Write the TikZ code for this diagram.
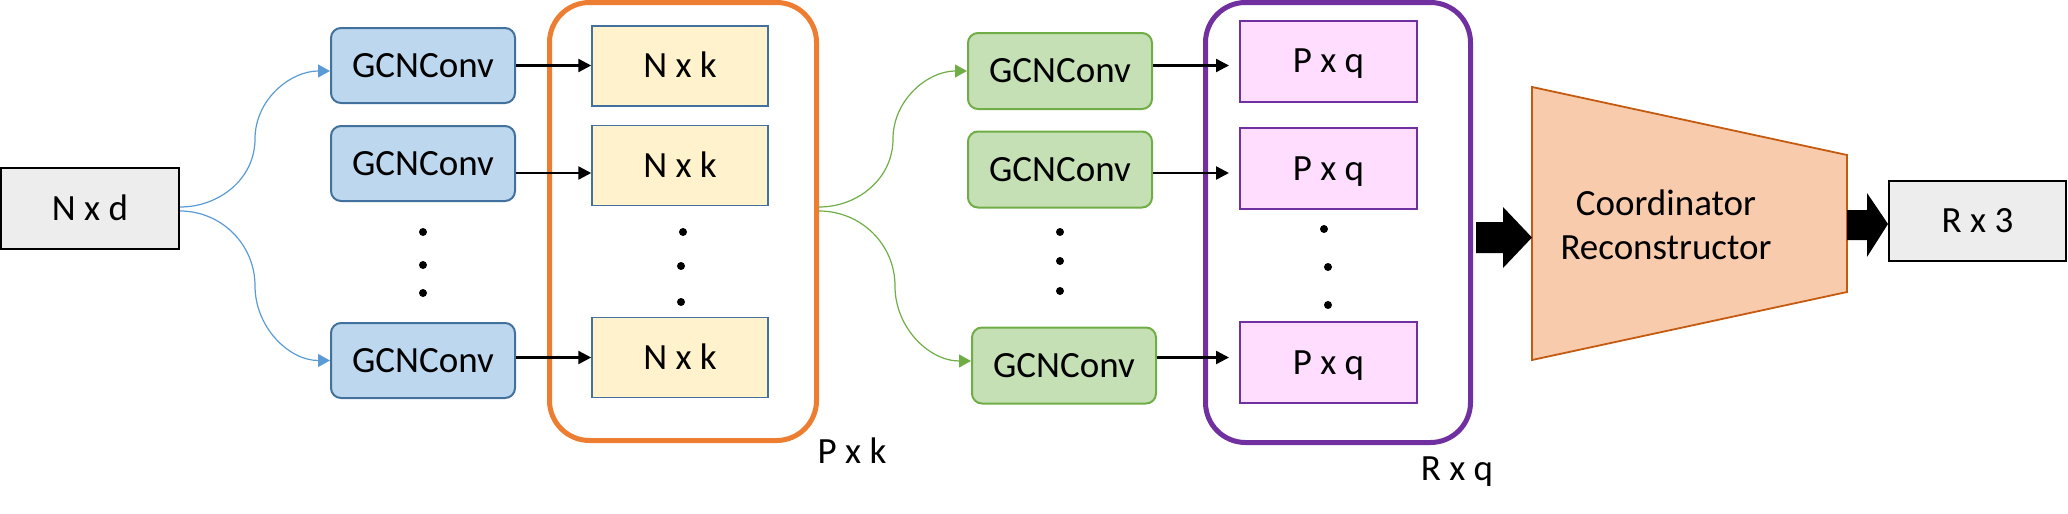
\documentclass[tikz,border=0pt]{standalone}
\usepackage{fontspec}
\setmainfont{Carlito}
\usetikzlibrary{arrows.meta,calc}
\definecolor{cGray}{HTML}{EDEDED}
\definecolor{cBlueF}{HTML}{BDD7EE}
\definecolor{cBlueD}{HTML}{41719C}
\definecolor{cBlueL}{HTML}{5B9BD5}
\definecolor{cYel}{HTML}{FFF2CC}
\definecolor{cOr}{HTML}{ED7D31}
\definecolor{cGrF}{HTML}{C5E0B4}
\definecolor{cGrD}{HTML}{70AD47}
\definecolor{cPink}{HTML}{FFDDFF}
\definecolor{cPur}{HTML}{7030A0}
\definecolor{cTrF}{HTML}{F8CBAD}
\definecolor{cTrD}{HTML}{C55A11}
\tikzset{
  txt/.style={font=\fontsize{18.5}{22}\selectfont},
  box/.style={txt, rectangle, inner sep=0pt, text height=11.9pt, text depth=0pt},
  graybox/.style={box, draw=black, fill=cGray, line width=1pt, minimum width=89pt, minimum height=40.5pt},
  bluebox/.style={box, draw=cBlueD, fill=cBlueF, line width=1pt, rounded corners=5pt, minimum width=92pt, minimum height=37.5pt},
  yelbox/.style={box, draw=cBlueD, fill=cYel, line width=0.75pt, minimum width=88pt, minimum height=40pt},
  grbox/.style={box, draw=cGrD, fill=cGrF, line width=1pt, rounded corners=5pt, minimum width=92pt, minimum height=38pt},
  pinkbox/.style={box, draw=cPur, fill=cPink, line width=1pt, minimum width=88.5pt, minimum height=40.5pt},
  frame/.style={rectangle, line width=2.5pt, rounded corners=20pt, inner sep=0pt},
  arr/.style={line width=1.2pt, -{Triangle[length=6.5pt,width=6.5pt]}},
  bcurve/.style={draw=cBlueL, line width=0.6pt, -{Triangle[length=6pt,width=6.5pt]}},
  gcurve/.style={draw=cGrD, line width=0.6pt, -{Triangle[length=6pt,width=6.5pt]}},
  dot/.style={fill=black},
}
\begin{document}
\begin{tikzpicture}[x=0.5pt,y=-0.5pt]
\useasboundingbox (0,0) rectangle (2068,514);
% row coordinates for arrows
\coordinate (r1) at (0,65.5);
\coordinate (r2) at (0,173);
\coordinate (r3) at (0,357.5);
% frames
\node[frame, draw=cOr, minimum width=133.5pt, minimum height=219pt] (F1) at (683,221.5) {};
\node[frame, draw=cPur, minimum width=132.5pt, minimum height=220pt] (F2) at (1338,222.5) {};
% input
\node[graybox] (nxd) at (90,208.5) {N x d};
% blue GCNConv
\node[bluebox] (b1) at (423,65.5) {GCNConv};
\node[bluebox] (b2) at (423,163.5) {GCNConv};
\node[bluebox] (b3) at (423,360.5) {GCNConv};
\fill[dot] (423,232) circle (2pt) (423,265) circle (2pt) (423,293) circle (2pt);
% yellow
\node[yelbox] (y1) at (680,66) {N x k};
\node[yelbox] (y2) at (680,165.5) {N x k};
\node[yelbox] (y3) at (680,357.5) {N x k};
\fill[dot] (683,232) circle (2pt) (681,266) circle (2pt) (681,302) circle (2pt);
% green GCNConv
\node[grbox] (g1) at (1060,71) {GCNConv};
\node[grbox] (g2) at (1060,169.5) {GCNConv};
\node[grbox] (g3) at (1064,365.5) {GCNConv};
\fill[dot] (1060,232) circle (2pt) (1060,261) circle (2pt) (1060,291) circle (2pt);
% pink
\node[pinkbox] (p1) at (1328.5,61) {P x q};
\node[pinkbox] (p2) at (1328.5,168.5) {P x q};
\node[pinkbox] (p3) at (1328.5,362.5) {P x q};
\fill[dot] (1324,229) circle (2pt) (1328,267) circle (2pt) (1328,305) circle (2pt);
% labels
\node[txt, anchor=base] (lpk) at (852,463) {P x k};
\node[txt, anchor=base] (lrq) at (1457,480) {R x q};
% blue curves
\coordinate (bs1) at ([yshift=0.75pt]nxd.east);
\coordinate (be1) at ([yshift=-2.75pt]b1.west);
\coordinate (bs3) at ([yshift=-1.25pt]nxd.east);
\coordinate (be3) at (b3.west);
\draw[bcurve] (bs1) to[out=0,in=-90] ($(bs1)!0.5!(be1)$) to[out=90,in=180] (be1);
\draw[bcurve] (bs3) to[out=0,in=90] ($(bs3)!0.5!(be3)$) to[out=-90,in=180] (be3);
% arrows blue -> yellow
\draw[arr] (b1.east |- r1) -- (y1.west |- r1);
\draw[arr] (b2.east |- r2) -- (y2.west |- r2);
\draw[arr] (b3.east |- r3) -- (y3.west |- r3);
% green curves
\coordinate (gs1) at ([yshift=7.25pt]F1.east);
\coordinate (ge1) at (g1.west);
\coordinate (gs3) at ([yshift=5.25pt]F1.east);
\coordinate (ge3) at ([yshift=2.25pt]g3.west);
\draw[gcurve] (gs1) to[out=0,in=-90] ($(gs1)!0.5!(ge1)$) to[out=90,in=180] (ge1);
\draw[gcurve] (gs3) to[out=0,in=90] ($(gs3)!0.5!(ge3)$) to[out=-90,in=180] (ge3);
% arrows green -> pink
\draw[arr, shorten >=5pt] (g1.east |- r1) -- (p1.west |- r1);
\draw[arr, shorten >=5pt] (g2.east |- r2) -- (p2.west |- r2);
\draw[arr, shorten >=5pt] (g3.east |- r3) -- (p3.west |- r3);
% trapezoid
\draw[fill=cTrF, draw=cTrD, line width=0.9pt] (1532,87) -- (1847,155) -- (1847,292) -- (1532,360) -- cycle;
\node[txt, align=center] (coord) at (1666,225) {Coordinator\\Reconstructor};
% block arrows
\fill[black] (1476,222) -- (1503,222) -- (1503,207) -- (1532,237.5) -- (1503,268) -- (1503,253) -- (1476,253) -- cycle;
\fill[black] (1847,210) -- (1867,210) -- (1867,193) -- (1888,224) -- (1867,257) -- (1867,240) -- (1847,240) -- cycle;
% output
\node[graybox, minimum width=88.5pt, minimum height=40pt] (rx3) at (1977.5,221) {R x 3};
\end{tikzpicture}
\end{document}
